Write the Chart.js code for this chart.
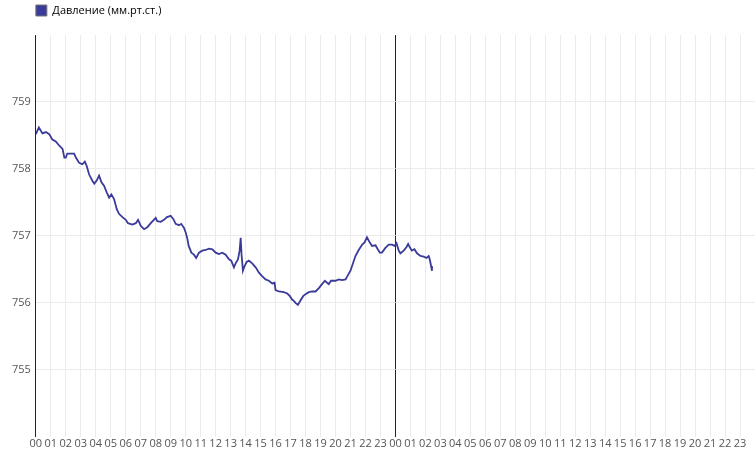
<!DOCTYPE html>
<html>
<head>
<meta charset="utf-8">
<script src="https://cdn.jsdelivr.net/npm/chart.js@4.4.0/dist/chart.umd.min.js"></script>
<style>
    html, body { margin: 0; padding: 0; background: #fff; }
    #wrap { width: 755px; height: 451px; }
</style>
</head>
<body>
<div id="wrap"><canvas id="pressureChart"></canvas></div>
<script>
// hours since the first midnight
const hours = [
    0, 0.2, 0.44, 0.67, 0.89, 1.1, 1.33, 1.55, 1.78, 1.9, 2.0, 2.1, 2.33, 2.55, 2.67, 2.89,
    3.1, 3.27, 3.4, 3.55, 3.78, 3.9, 4.07, 4.22, 4.38, 4.55, 4.73, 4.89, 5.04, 5.22, 5.4, 5.55,
    5.78, 6.0, 6.15, 6.44, 6.67, 6.82, 7.0, 7.22, 7.44, 7.67, 8.0, 8.1, 8.33, 8.55, 8.75, 9.0,
    9.18, 9.33, 9.55, 9.7, 9.89, 10.0, 10.1, 10.2, 10.38, 10.55, 10.7, 10.89, 11.1, 11.33, 11.55,
    11.78, 12.0, 12.22, 12.44, 12.67, 12.89, 13.04, 13.22, 13.33, 13.49, 13.6, 13.67, 13.73, 13.82,
    13.93, 14.07, 14.22, 14.44, 14.67, 14.89, 15.1, 15.33, 15.55, 15.78, 15.93, 16.0, 16.22, 16.55,
    16.78, 16.96, 17.1, 17.22, 17.33, 17.49, 17.67, 17.84, 18.0, 18.22, 18.44, 18.67, 18.89, 19.1,
    19.29, 19.44, 19.55, 19.7, 20.0, 20.22, 20.44, 20.67, 20.82, 21.0, 21.18, 21.33, 21.55, 21.78,
    21.93, 22.1, 22.29, 22.44, 22.67, 22.82, 22.96, 23.1, 23.33, 23.55, 23.78, 23.93, 24.07, 24.22,
    24.33, 24.55, 24.73, 24.85, 24.96, 25.1, 25.27, 25.44, 25.67, 25.89, 26.07, 26.22, 26.29, 26.38, 26.44
];

const pressure = [
    758.52, 758.62, 758.53, 758.55, 758.52, 758.44, 758.41, 758.35, 758.3, 758.17, 758.17, 758.23, 758.23, 758.23, 758.17, 758.09,
    758.07, 758.11, 758.04, 757.92, 757.82, 757.78, 757.83, 757.9, 757.8, 757.75, 757.65, 757.57, 757.62, 757.55, 757.4, 757.33,
    757.28, 757.24, 757.19, 757.17, 757.19, 757.24, 757.15, 757.1, 757.13, 757.19, 757.27, 757.22, 757.21, 757.24, 757.28, 757.3,
    757.25, 757.18, 757.16, 757.18, 757.12, 757.05, 756.97, 756.85, 756.75, 756.72, 756.67, 756.75, 756.78, 756.79, 756.81,
    756.8, 756.75, 756.73, 756.75, 756.72, 756.65, 756.63, 756.53, 756.59, 756.65, 756.78, 756.97, 756.72, 756.48,
    756.55, 756.61, 756.63, 756.59, 756.53, 756.45, 756.4, 756.35, 756.33, 756.29, 756.3, 756.19, 756.17, 756.16,
    756.14, 756.1, 756.05, 756.03, 756.0, 755.97, 756.04, 756.1, 756.13, 756.16, 756.17, 756.17, 756.22, 756.28,
    756.33, 756.3, 756.28, 756.33, 756.33, 756.35, 756.34, 756.35, 756.41, 756.48, 756.6, 756.7, 756.79, 756.87,
    756.9, 756.98, 756.9, 756.85, 756.86, 756.8, 756.75, 756.75, 756.82, 756.87, 756.87, 756.85, 756.89, 756.78,
    756.74, 756.78, 756.83, 756.88, 756.83, 756.78, 756.8, 756.74, 756.7, 756.69, 756.67, 756.7, 756.65, 756.55, 756.48
];

const yTicks = [755, 756, 757, 758, 759];

const pad = (n) => (n < 10 ? '0' : '') + n;

Chart.defaults.font.family = "'Open Sans', 'Noto Sans', sans-serif";
Chart.defaults.font.size = 11;
Chart.defaults.color = '#555';

// legend sits over the plot's left edge, with a little more room under it
const legendShift = {
    id: 'legendShift',
    beforeInit(chart) {
        const fit = chart.legend.fit;
        chart.legend.fit = function () {
            fit.bind(this)();
            this.height += 9;
        };
    },
    afterLayout(chart) {
        chart.legend.left = chart.chartArea.left - 5;
    }
};

const ctx = document.getElementById('pressureChart');

const data = {
    datasets: [
        {
            label: 'Давление (мм.рт.ст.)',
            data: hours.map((h, i) => ({ x: h, y: pressure[i] })),
            borderColor: '#3a3a9a',
            backgroundColor: '#3a3a9a',
            borderWidth: 1.8,
            pointRadius: 0,
            tension: 0,
            fill: false
        }
    ]
};

const config = {
    type: 'line',
    data: data,
    plugins: [legendShift],
    options: {
        responsive: true,
        maintainAspectRatio: false,
        animation: false,
        layout: { padding: { left: 7, right: 0, top: 0, bottom: 1 } },
        plugins: {
            legend: {
                position: 'top',
                align: 'start',
                labels: {
                    boxWidth: 11,
                    boxHeight: 11,
                    padding: 5,
                    color: '#555',
                    generateLabels: (chart) => [{
                        text: chart.data.datasets[0].label,
                        fillStyle: '#3a3a9a',
                        strokeStyle: '#777',
                        lineWidth: 1,
                        datasetIndex: 0
                    }]
                }
            },
            tooltip: { enabled: false }
        },
        scales: {
            x: {
                type: 'linear',
                min: 0,
                max: 48,
                border: { display: false },
                grid: {
                    drawTicks: false,
                    color: (c) => (c.tick && c.tick.value === 24 ? '#222' : '#ebebeb'),
                    lineWidth: 1
                },
                ticks: {
                    stepSize: 1,
                    autoSkip: false,
                    maxRotation: 0,
                    padding: 0,
                    callback: (val) => (val < 48 ? pad(val % 24) : '')
                }
            },
            y: {
                min: 754,
                max: 760,
                z: -1,
                border: { color: '#222' },
                grid: {
                    drawTicks: false,
                    color: (c) => (c.tick && yTicks.includes(c.tick.value) ? '#ebebeb' : 'rgba(0,0,0,0)')
                },
                ticks: {
                    stepSize: 1,
                    padding: 5,
                    callback: (val) => (yTicks.includes(val) ? val : '')
                }
            }
        }
    }
};

window.pressureChart = new Chart(ctx, config);
</script>
</body>
</html>
